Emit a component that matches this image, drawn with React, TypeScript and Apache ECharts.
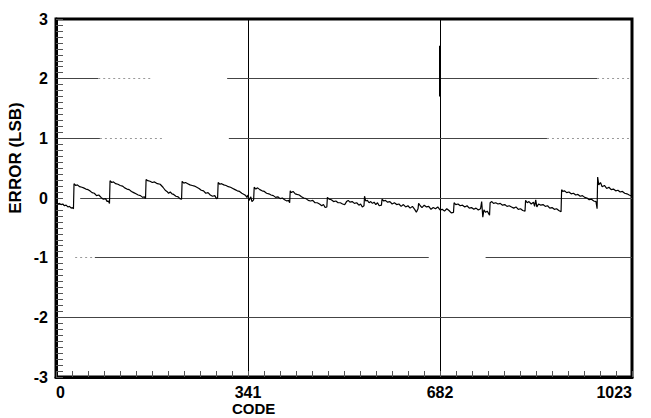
import React, { useEffect, useRef } from "react";
import * as echarts from "echarts";

// Code (x) and INL error in LSB (y)
const codes: number[] = [
  0, 3, 6, 9, 12, 15, 18, 21, 24, 27, 29, 31,
  32, 35, 38, 42, 46, 49, 53, 57, 60, 64, 68, 72, 76, 80, 84, 88, 91, 93, 95,
  96, 99, 102, 106, 110, 114, 118, 122, 126, 130, 134, 138, 142, 146, 150, 154, 157, 159,
  160, 163, 167, 171, 175, 180, 185, 190, 194, 197, 200, 203, 206, 209, 213, 217, 220, 223,
  224, 227, 230, 234, 238, 242, 246, 250, 254, 258, 262, 266, 270, 274, 278, 282, 285, 287,
  288, 291, 294, 298, 302, 306, 310, 314, 318, 322, 326, 330, 334, 337, 339, 341, 343, 346, 348, 351,
  352, 355, 358, 362, 366, 370, 374, 378, 382, 386, 390, 394, 398, 402, 406, 410, 413, 415,
  416, 418, 421, 425, 428, 432, 436, 440, 444, 448, 452, 456, 460, 464, 468, 472, 475, 478, 481,
  482, 485, 489, 493, 497, 501, 505, 509, 513, 516, 519, 522, 526, 530, 534, 538, 541, 544, 547,
  548, 550, 553, 556, 559, 562, 565, 568, 571, 574, 578,
  579, 582, 585, 589, 593, 597, 601, 605, 609, 613, 617, 621, 625, 629, 633, 637, 640, 643,
  644, 647, 650, 654, 658, 662, 666, 670, 674, 678, 682, 686, 690, 694, 698, 702, 706,
  707, 710, 714, 718, 722, 726, 730, 734, 738, 742, 746, 750, 754, 756, 758, 760, 763, 766, 770,
  771, 774, 777, 781, 785, 789, 793, 797, 801, 805, 809, 813, 817, 821, 825, 829, 833,
  834, 837, 840, 844, 848, 850, 852, 854, 857, 861, 865, 869, 873, 877, 881, 885, 889, 893, 897,
  898, 900, 903, 907, 911, 915, 919, 923, 927, 931, 935, 939, 943, 947, 951, 955, 959, 961,
  962, 964, 967, 970, 974, 978, 982, 986, 990, 994, 998, 1002, 1006, 1010, 1014, 1018, 1023,
];

const errors: number[] = [
  -0.07, -0.1, -0.09, -0.11, -0.1, -0.13, -0.12, -0.15, -0.14, -0.17, -0.16, -0.18,
  0.24, 0.21, 0.22, 0.19, 0.18, 0.17, 0.15, 0.14, 0.12, 0.09, 0.08, 0.04, 0.05, 0.01, -0.02, -0.01, -0.06, -0.05, -0.09,
  0.29, 0.26, 0.27, 0.24, 0.23, 0.21, 0.2, 0.17, 0.15, 0.14, 0.11, 0.09, 0.07, 0.05, 0.04, 0.01, 0.02, -0.01,
  0.31, 0.29, 0.28, 0.26, 0.27, 0.24, 0.23, 0.18, 0.13, 0.11, 0.08, 0.1, 0.07, 0.06, 0.03, 0.02, -0.01, -0.02,
  0.28, 0.25, 0.26, 0.24, 0.22, 0.21, 0.2, 0.18, 0.16, 0.13, 0.12, 0.08, 0.09, 0.05, 0.03, 0.04, -0.01, 0.0,
  0.26, 0.23, 0.24, 0.22, 0.21, 0.19, 0.18, 0.16, 0.14, 0.12, 0.11, 0.08, 0.06, 0.04, 0.01, 0.05, -0.04, 0.02, -0.06, -0.03,
  0.18, 0.15, 0.17, 0.14, 0.12, 0.11, 0.08, 0.07, 0.05, 0.04, 0.01, 0.02, -0.01, 0.0, -0.03, -0.05, -0.04, -0.08,
  0.12, 0.09, 0.11, 0.07, 0.06, 0.05, 0.02, 0.0, -0.01, -0.04, -0.05, -0.04, -0.08, -0.08, -0.1, -0.13, -0.11, -0.16, -0.15,
  0.01, -0.02, -0.03, -0.06, -0.05, -0.08, -0.08, -0.1, -0.11, -0.06, -0.04, -0.07, -0.06, -0.09, -0.08, -0.12, -0.1, -0.15, -0.13,
  0.03, -0.05, -0.04, -0.08, -0.06, -0.09, -0.07, -0.11, -0.08, -0.13, -0.12,
  -0.02, -0.05, -0.04, -0.07, -0.06, -0.1, -0.08, -0.11, -0.1, -0.14, -0.11, -0.15, -0.13, -0.17, -0.14, -0.19, -0.24, -0.18,
  -0.09, -0.13, -0.16, -0.12, -0.15, -0.14, -0.19, -0.16, -0.18, -0.15, -0.2, -0.19, -0.22, -0.18, -0.21, -0.25, -0.24,
  -0.08, -0.11, -0.1, -0.13, -0.12, -0.15, -0.13, -0.17, -0.16, -0.19, -0.17, -0.2, -0.18, -0.06, -0.32, -0.2, -0.24, -0.22, -0.29,
  -0.08, -0.06, -0.09, -0.08, -0.1, -0.09, -0.12, -0.11, -0.14, -0.13, -0.15, -0.17, -0.15, -0.19, -0.18, -0.21, -0.22,
  -0.04, -0.08, -0.06, -0.1, -0.07, -0.14, -0.03, -0.15, -0.1, -0.12, -0.11, -0.14, -0.13, -0.17, -0.16, -0.19, -0.18, -0.21, -0.23,
  0.14, 0.11, 0.12, 0.09, 0.1, 0.07, 0.08, 0.05, 0.06, 0.03, 0.04, 0.01, 0.0, -0.03, -0.02, -0.05, -0.06, -0.18,
  0.35, 0.22, 0.26, 0.19, 0.21, 0.16, 0.18, 0.14, 0.15, 0.12, 0.13, 0.1, 0.11, 0.08, 0.07, 0.05, 0.03,
];

const xTickValues = [0, 341, 682, 1023];
const yTickValues = [-3, -2, -1, 0, 1, 2, 3];
const xAxisTitle = "CODE";
const yAxisTitle = "ERROR (LSB)";

// horizontal reference lines of the scanned plot (level, from code, to code, faded?)
const hLevels: [number, number, number, boolean][] = [
  [2, 0, 75, false], [2, 75, 172, true], [2, 304, 961, false], [2, 961, 1023, true],
  [1, 0, 78, false], [1, 78, 193, true], [1, 307, 872, false], [1, 872, 1023, true],
  [0, 43, 1023, false],
  [-1, 34, 69, true], [-1, 69, 662, false], [-1, 763, 1023, false],
  [-2, 0, 1023, false],
];

const FONT = "'Liberation Sans', Arial, sans-serif";

export default function App() {
  const ref = useRef<HTMLDivElement>(null);
  useEffect(() => {
    if (!ref.current) return;
    const chart = echarts.init(ref.current, null, { renderer: "svg" });
    const data = codes.map((c, i) => [c, errors[i]]);
    const markData: any[] = hLevels.map(([lv, a, b, faded]) => [
      {
        coord: [a, lv],
        lineStyle: faded
          ? { color: "#999", width: 1, type: [2, 3] }
          : { color: "#444", width: 1, type: "solid" },
      },
      { coord: [b, lv] },
    ]);
    markData.push([
      { coord: [682, 1.7], lineStyle: { color: "#000", width: 2, type: "solid" } },
      { coord: [682, 2.55] },
    ]);
    chart.setOption({
      animation: false,
      grid: {
        left: 56,
        right: 19,
        top: 19,
        bottom: 41,
        show: true,
        borderColor: "#000",
        borderWidth: 3,
        backgroundColor: "transparent",
      },
      xAxis: {
        type: "value",
        min: 0,
        max: 1023,
        interval: 341,
        axisLine: { show: true, onZero: false, lineStyle: { color: "#000", width: 3 } },
        axisTick: { show: true, inside: true, length: 6, lineStyle: { color: "#555" } },
        minorTick: { show: true, splitNumber: 12, length: 6, lineStyle: { color: "#555" } },
        splitLine: { show: true, lineStyle: { color: "#000", width: 1 } },
        axisLabel: {
          color: "#000",
          fontFamily: FONT,
          fontWeight: "bold",
          fontSize: 16,
          margin: 7,
          alignMinLabel: "left",
          alignMaxLabel: "right",
          customValues: xTickValues,
          formatter: (v: number) => String(v),
        },
      },
      yAxis: {
        type: "value",
        min: -3,
        max: 3,
        interval: 1,
        axisLine: { show: true, onZero: false, lineStyle: { color: "#000", width: 3 } },
        axisTick: { show: true, inside: true, length: 7, lineStyle: { color: "#555" } },
        minorTick: { show: true, splitNumber: 10, length: 7, lineStyle: { color: "#555" } },
        splitLine: { show: false },
        axisLabel: {
          color: "#000",
          fontFamily: FONT,
          fontWeight: "bold",
          fontSize: 16,
          margin: 8,
          customValues: yTickValues,
          formatter: (v: number) => String(v),
        },
      },
      graphic: [
        {
          type: "text",
          left: 232,
          top: 401,
          style: { text: xAxisTitle, fill: "#000", font: `bold 15px ${FONT}` },
        },
        {
          type: "text",
          x: 15,
          y: 158,
          rotation: Math.PI / 2,
          style: {
            text: yAxisTitle,
            fill: "#000",
            font: `bold 17px ${FONT}`,
            align: "center",
            verticalAlign: "middle",
          },
        },
      ],
      series: [
        {
          type: "line",
          data,
          showSymbol: false,
          symbol: "none",
          lineStyle: { color: "#000", width: 1.2 },
          z: 5,
          markLine: {
            silent: true,
            symbol: ["none", "none"],
            label: { show: false },
            data: markData,
          },
        },
      ],
    });
    return () => chart.dispose();
  }, []);
  return (
    <div
      ref={ref}
      style={{ position: "fixed", left: 0, top: 0, width: 651, height: 418, background: "#fff" }}
    />
  );
}
